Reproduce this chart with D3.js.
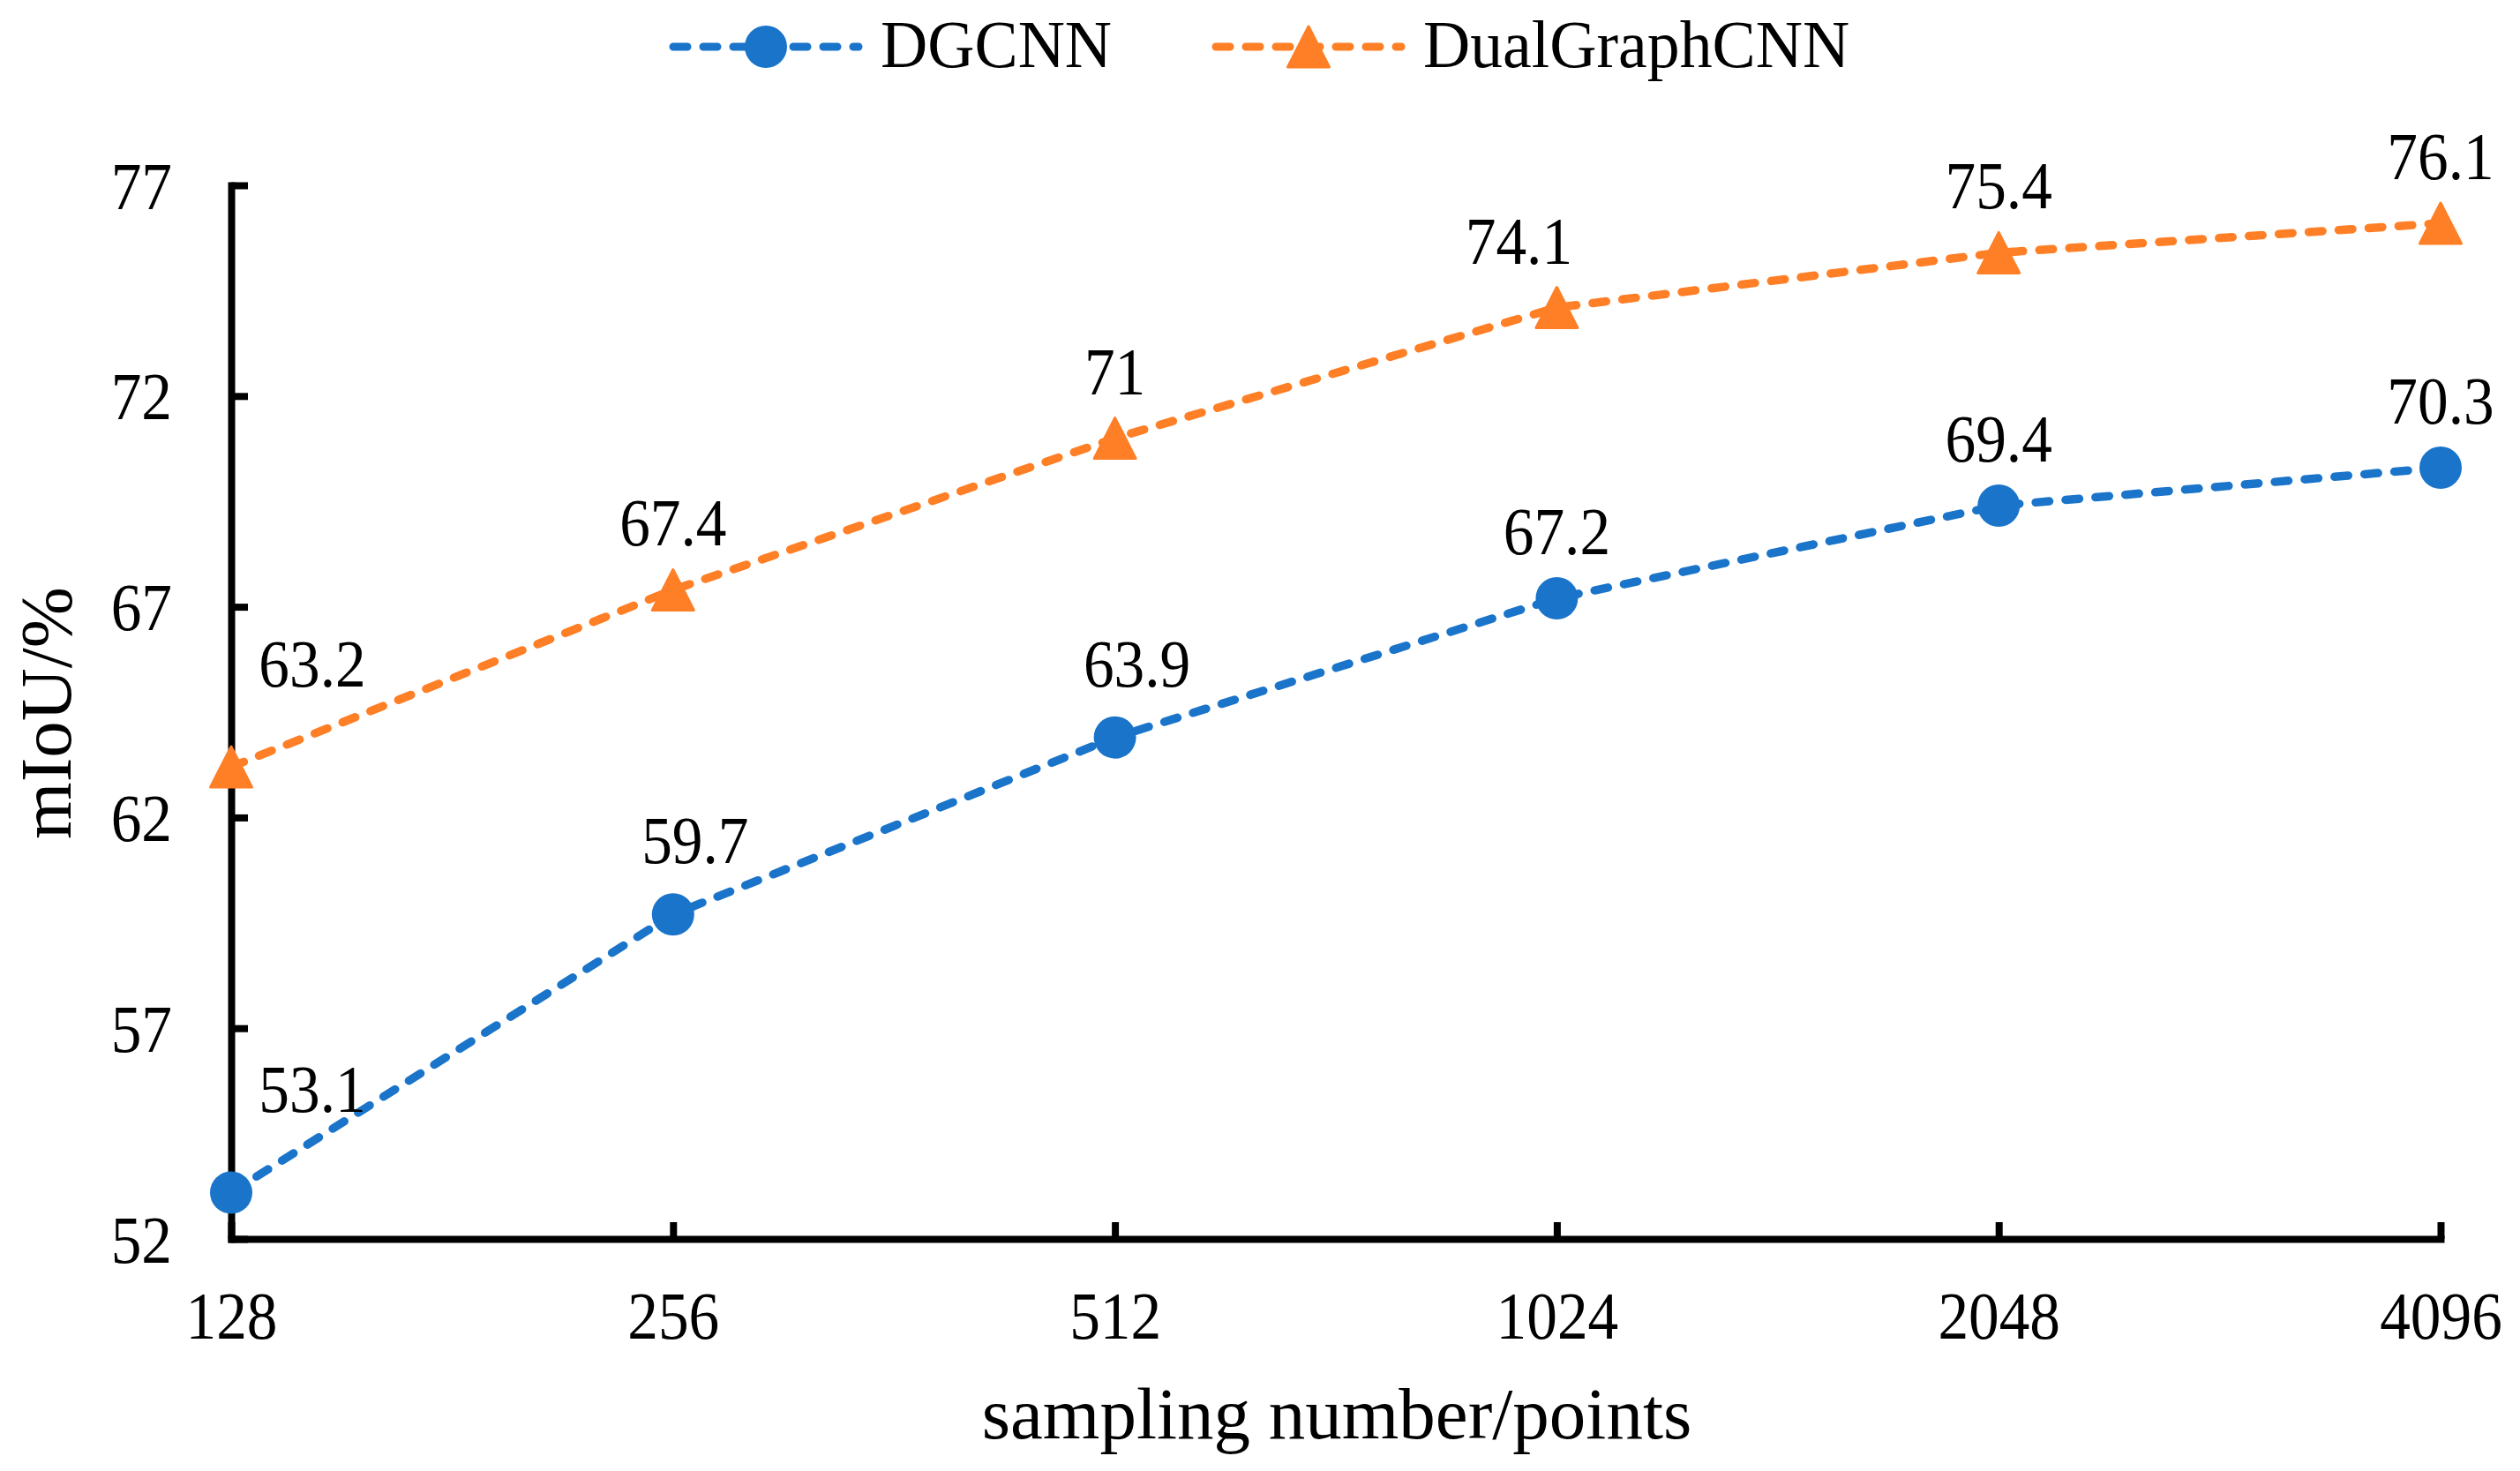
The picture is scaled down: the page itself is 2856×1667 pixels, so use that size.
<!DOCTYPE html>
<html>
<head>
<meta charset="utf-8">
<script src="https://cdn.jsdelivr.net/npm/d3@7"></script>
<style>
  body { margin: 0; background: #fff; }
  text { font-family: "Liberation Serif", "Times New Roman", serif; fill: #000; }
</style>
</head>
<body>
<div id="chart"></div>
<script>
// data
var categories = ["128", "256", "512", "1024", "2048", "4096"];
var dgcnn = [53.1, 59.7, 63.9, 67.2, 69.4, 70.3];
var dualGraphCnn = [63.2, 67.4, 71, 74.1, 75.4, 76.1];
var yTicks = [52, 57, 62, 67, 72, 77];
var seriesNames = ["DGCNN", "DualGraphCNN"];

var W = 2856, H = 1667;
var blue = "#1a74c9", orange = "#fe7f26";

var svg = d3.select("#chart").append("svg")
    .attr("width", W)
    .attr("height", H);

var x = d3.scalePoint()
    .domain(categories)
    .range([262, 2766]);

var y = d3.scaleLinear()
    .domain([52, 77])
    .range([1404, 210]);

// axes
var yAxis = svg.append("g")
    .attr("transform", "translate(262,0)")
    .call(d3.axisLeft(y).tickValues(yTicks).tickSize(-19).tickSizeOuter(0).tickFormat(d3.format("d")));

var xAxis = svg.append("g")
    .attr("transform", "translate(0,1404)")
    .call(d3.axisBottom(x).tickSize(-19).tickSizeOuter(0));

[yAxis, xAxis].forEach(function(ax) {
	ax.select(".domain").attr("stroke", "#000").attr("stroke-width", 8).attr("stroke-linecap", "square");
	ax.selectAll(".tick line").attr("stroke", "#000").attr("stroke-width", 8);
	ax.selectAll(".tick text").attr("font-size", 77).attr("fill", "#000")
		.attr("font-family", null);
});

yAxis.selectAll(".tick text")
    .attr("x", null).attr("dy", null)
    .attr("text-anchor", "end")
    .attr("transform", "translate(-67,26) scale(0.9,1)");

xAxis.selectAll(".tick text")
    .attr("y", null).attr("dy", null)
    .attr("text-anchor", "middle")
    .attr("transform", "translate(0,113) scale(0.9,1)");

// axis titles
svg.append("text")
    .attr("transform", "translate(1515,1630)")
    .attr("text-anchor", "middle")
    .attr("font-size", 83)
    .text("sampling number/points");

svg.append("text")
    .attr("transform", "translate(80,808) rotate(-90)")
    .attr("text-anchor", "middle")
    .attr("font-size", 83)
    .text("mIoU/%");

// markers
function triangle(cx, cy) {
	let w = 47, h = 46;
	return "M" + cx + "," + (cy - h / 2) + "L" + (cx + w / 2) + "," + (cy + h / 2) + "L" + (cx - w / 2) + "," + (cy + h / 2) + "Z";
}

function drawMarker(g, kind, cx, cy, color) {
	if (kind === "circle") {
		g.append("circle").attr("cx", cx).attr("cy", cy).attr("r", 24).attr("fill", color);
	} else {
		g.append("path").attr("d", triangle(cx, cy)).attr("fill", color)
			.attr("stroke", color).attr("stroke-width", 3).attr("stroke-linejoin", "round");
	}
}

var series = [
	{ name: seriesNames[0], values: dgcnn, color: blue, marker: "circle" },
	{ name: seriesNames[1], values: dualGraphCnn, color: orange, marker: "triangle" }
];

var line = d3.line()
    .x((d, i) => x(categories[i]))
    .y((d) => y(d));

series.forEach(function(s) {
	svg.append("path")
		.attr("d", line(s.values))
		.attr("fill", "none")
		.attr("stroke", s.color)
		.attr("stroke-width", 9.5)
		.attr("stroke-dasharray", "15.5 18.5")
		.attr("stroke-linecap", "round");
});

series.forEach(function(s) {
	let g = svg.append("g");
	s.values.forEach(function(v, i) {
		drawMarker(g, s.marker, x(categories[i]), y(v), s.color);
	});
});

// value labels (a few sit a little off centre in the original)
function labelNudge(k, i) {
	if (i === 0) return [92, -91];
	if (k === 0 && (i === 1 || i === 2)) return [25, -58];
	if (k === 1 && i === 3) return [-43, -50];
	return [0, -50];
}

series.forEach(function(s, k) {
	s.values.forEach(function(v, i) {
		let n = labelNudge(k, i);
		svg.append("text")
			.attr("transform", "translate(" + (x(categories[i]) + n[0]) + "," + (y(v) + n[1]) + ") scale(0.9,1)")
			.attr("text-anchor", "middle")
			.attr("font-size", 77)
			.text(v);
	});
});

// legend
var legendX = [759, 1374];
series.forEach(function(s, k) {
	let g = svg.append("g");
	let x0 = legendX[k];
	g.append("line")
		.attr("x1", x0 + 4).attr("x2", x0 + 214)
		.attr("y1", 53).attr("y2", 53)
		.attr("stroke", s.color)
		.attr("stroke-width", 9)
		.attr("stroke-dasharray", "16 18")
		.attr("stroke-linecap", "round");
	drawMarker(g, s.marker, x0 + 109, 53, s.color);
	g.append("text")
		.attr("transform", "translate(" + (x0 + 239) + ",76) scale(0.97,1)")
		.attr("font-size", 76)
		.text(s.name);
});
</script>
</body>
</html>
